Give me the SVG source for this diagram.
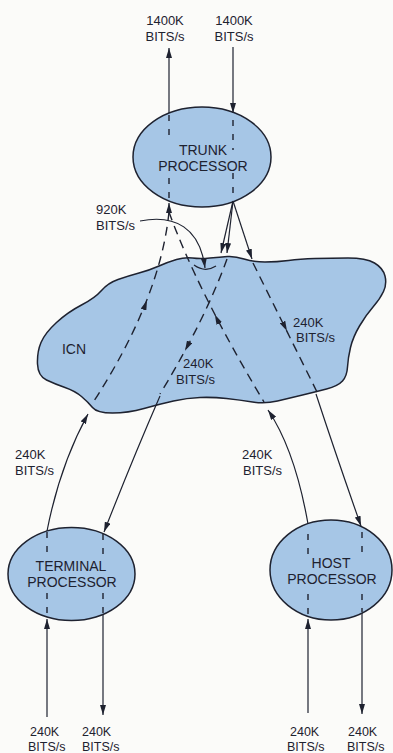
<svg xmlns="http://www.w3.org/2000/svg" width="393" height="753" viewBox="0 0 393 753">
<style>
.shape{fill:#a6c6e6;stroke:#1e2230;stroke-width:1.5}
.t{font-family:"Liberation Sans",Arial,sans-serif;font-size:13px;fill:#1e2230}
.b{font-size:12.5px}
.n{font-family:"Liberation Sans",Arial,sans-serif;font-size:14px;fill:#1e2230;text-anchor:middle}
.c{fill:none;stroke:#1e2230;stroke-width:1.2}
.d{fill:none;stroke:#1e2230;stroke-width:1.4;stroke-dasharray:9 6}
.di{fill:none;stroke:#1e2230;stroke-width:1.4;stroke-dasharray:6 8}
.m{fill:none;stroke:none}
</style>
<defs>
<marker id="ah" viewBox="0 0 10 6" refX="10" refY="3" markerWidth="10" markerHeight="6" orient="auto" markerUnits="userSpaceOnUse">
<path d="M0,0 L10,3 L0,6 z" fill="#1e2230"/>
</marker>
</defs>
<rect width="393" height="753" fill="#fbfbf9"/>

<g id="icn">
<path class="shape" d="M41,342.5 Q45,333 56.5,322.5 Q68,312 81.5,305 Q95,298 101.5,290.5 Q108,283 118,279.5 Q128,276 139,273 Q150,270 159,266 Q168,262 176.5,259.5 Q185,257 192.5,258 Q200,259 210,258 Q220,257 227.5,256.5 Q235,256 244,259 Q253,262 265,262 Q277,262 288.5,260.5 Q300,259 315,258.5 Q330,258 348,258 Q366,258 374.5,263 Q383,268 385,276 Q387,284 383.5,291.5 Q380,299 373,307 Q366,315 359.5,326 Q353,337 350.5,347.5 Q348,358 347.5,367 Q347,376 342.5,381 Q338,386 326.5,389 Q315,392 302.5,395 Q290,398 277.5,401 Q265,404 252.5,402 Q240,400 226.5,398.5 Q213,397 200,397.5 Q187,398 173.5,401 Q160,404 144,408.5 Q128,413 112.5,413 Q97,413 92.5,407.5 Q88,402 81.5,396.5 Q75,391 65,387.5 Q55,384 46.5,380 Q38,376 37.5,364 Q37,352 41,342.5 Z"/>
<text class="n" x="74" y="354">ICN</text>
</g>

<g id="trunk">
<ellipse class="shape" cx="202" cy="157" rx="69" ry="50"/>
<text class="n" x="203" y="155">TRUNK</text>
<text class="n" x="203" y="171">PROCESSOR</text>
<line class="di" x1="169" y1="115" x2="169" y2="135"/>
<line class="di" x1="169" y1="178" x2="169" y2="200"/>
<line class="di" x1="233" y1="120" x2="233" y2="150"/>
<line class="di" x1="233" y1="173" x2="233" y2="197"/>
</g>

<g id="terminal">
<ellipse class="shape" cx="71.5" cy="574" rx="63.5" ry="46.5"/>
<text class="n" x="71" y="571">TERMINAL</text>
<text class="n" x="72" y="587">PROCESSOR</text>
<line class="di" x1="47" y1="532" x2="47" y2="555"/>
<line class="di" x1="47" y1="593" x2="47" y2="615"/>
<line class="di" x1="103" y1="534" x2="103" y2="556"/>
<line class="di" x1="103" y1="593" x2="103" y2="613"/>
</g>

<g id="host">
<ellipse class="shape" cx="331" cy="570" rx="61" ry="50"/>
<text class="n" x="331" y="568">HOST</text>
<text class="n" x="332" y="584">PROCESSOR</text>
<line class="di" x1="308" y1="534" x2="308" y2="554"/>
<line class="di" x1="308" y1="594" x2="308" y2="616"/>
<line class="di" x1="362" y1="532" x2="362" y2="554"/>
<line class="di" x1="362" y1="594" x2="362" y2="612"/>
</g>

<g id="connectors">
<path class="c" d="M169,113 L169,48" marker-end="url(#ah)"/>
<path class="c" d="M233,47 L233,113" marker-end="url(#ah)"/>
<path class="c" d="M169,214 L169,203" marker-end="url(#ah)"/>
<path class="c" d="M233,201 L221,253" marker-end="url(#ah)"/>
<path class="c" d="M233,201 L227,253" marker-end="url(#ah)"/>
<path class="c" d="M233,201 L252,259" marker-end="url(#ah)"/>
<path class="d" d="M169,212 Q160,300 92,404"/>
<path class="m" d="M145.5,304.3 L147,300.3" marker-end="url(#ah)"/>
<path class="d" d="M169,212 Q197,290 264,402"/>
<path class="m" d="M216.6,318.2 L214.8,314.6" marker-end="url(#ah)"/>
<path class="d" d="M227,259 Q205,320 160,394"/>
<path class="m" d="M188.7,343.7 L185,350.7" marker-end="url(#ah)"/>
<path class="d" d="M253,263 L317,392"/>
<path class="m" d="M284.2,325.4 L287,331" marker-end="url(#ah)"/>
<path class="c" d="M47,531 Q60,465 88,414" marker-end="url(#ah)"/>
<path class="c" d="M160,396 Q133,458 104,532" marker-end="url(#ah)"/>
<path class="c" d="M47,717 L47,619" marker-end="url(#ah)"/>
<path class="c" d="M103,614 L103,715" marker-end="url(#ah)"/>
<path class="c" d="M308,524 Q295,450 268,410" marker-end="url(#ah)"/>
<path class="c" d="M316,394 Q336,455 361,526" marker-end="url(#ah)"/>
<path class="c" d="M308,713 L308,619" marker-end="url(#ah)"/>
<path class="c" d="M362,613 L362,714" marker-end="url(#ah)"/>
<path class="c" d="M140,221 C175,214 200,228 205,268" marker-end="url(#ah)"/>
<path class="c" d="M194,265 Q205,273 216,266"/>
</g>

<g id="labels">
<text class="t" x="165" y="25" text-anchor="middle">1400K</text>
<text class="t" x="165" y="41" text-anchor="middle">BITS/s</text>
<text class="t" x="234" y="25" text-anchor="middle">1400K</text>
<text class="t" x="234" y="41" text-anchor="middle">BITS/s</text>
<text class="t" x="96" y="214">920K</text>
<text class="t" x="96" y="230">BITS/s</text>
<text class="t" x="293" y="327">240K</text>
<text class="t" x="296" y="342">BITS/s</text>
<text class="t" x="183" y="368">240K</text>
<text class="t" x="176" y="384">BITS/s</text>
<text class="t" x="15" y="459">240K</text>
<text class="t" x="15" y="475">BITS/s</text>
<text class="t" x="242" y="459">240K</text>
<text class="t" x="243" y="475">BITS/s</text>
<text class="t b" x="30" y="736">240K</text>
<text class="t b" x="28" y="751">BITS/s</text>
<text class="t b" x="82" y="736">240K</text>
<text class="t b" x="82" y="751">BITS/s</text>
<text class="t b" x="290" y="736">240K</text>
<text class="t b" x="287" y="751">BITS/s</text>
<text class="t b" x="348" y="736">240K</text>
<text class="t b" x="347" y="751">BITS/s</text>
</g>
</svg>
